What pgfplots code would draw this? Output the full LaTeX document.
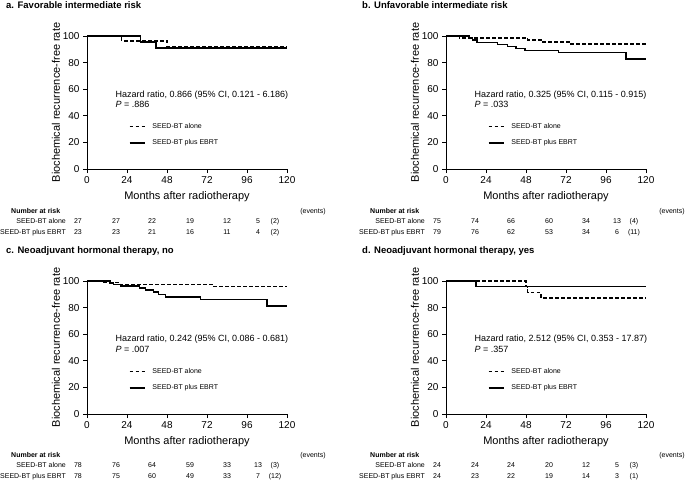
\documentclass[border=0pt]{standalone}
\usepackage{fontspec}
\setmainfont{Liberation Sans}
\usepackage{pgfplots}
\pgfplotsset{compat=1.18}

\newcommand{\titf}{\fontsize{9.5}{11}\selectfont\bfseries}
\newcommand{\tabf}{\fontsize{7}{8}\selectfont}
\newcommand{\tabbf}{\fontsize{7}{8}\selectfont\bfseries}
\newcommand{\hrf}{\fontsize{9}{11}\selectfont}

\pgfplotsset{
  km/.style={
    scale only axis, width=200pt, height=133pt,
    anchor=south west,
    xmin=0, xmax=120, ymin=0, ymax=100,
    axis x line*=bottom, axis y line*=left,
    xtick={0,24,...,120}, ytick={0,20,...,100},
    tick align=outside, major tick length=4pt,
    tick style={line width=0.8pt, black},
    axis line style={line width=0.8pt},
    tick label style={font=\fontsize{10}{12}\selectfont},
    /pgf/number format/assume math mode=true,
    label style={font=\fontsize{11}{13}\selectfont},
    xlabel={Months after radiotherapy},
    ylabel={Biochemical recurrence-free rate},
    ylabel shift=-4pt, xlabel shift=1pt,
    clip=false,
    legend style={draw=none, fill=none, at={(axis cs:25,35.5)}, anchor=north west,
      font=\tabf, row sep=8pt, inner sep=0pt, nodes={inner sep=1pt}},
    legend cell align=left,
    legend image code/.code={\draw[##1] (0pt,0pt) -- (15pt,0pt); \path (21pt,0pt);},
  },
  alone/.style={const plot, black, line width=1.3pt, dash pattern=on 3.5pt off 2.5pt},
  ebrt/.style={const plot, black, line width=1.6pt},
}

% number at risk table: #1 = axis x0, #2 = header baseline, #3 = alone/ebrt/xpos
\newcommand{\risktable}[3]{%
  \begin{scope}[shift={(#1pt,#2pt)}]
    \node[anchor=base west, font=\tabbf, inner sep=0pt] at (-76pt,0pt) {Number at risk};
    \node[anchor=base, font=\tabf, inner sep=0pt] at (226pt,0pt) {(events)};
    \node[anchor=base east, font=\tabf, inner sep=0pt] at (-21pt,-10.5pt) {SEED-BT alone};
    \node[anchor=base east, font=\tabf, inner sep=0pt] at (-21pt,-21pt) {SEED-BT plus EBRT};
    \foreach \a/\b/\p in {#3} {
      \node[anchor=base, font=\tabf, inner sep=0pt] at (\p pt,-10.5pt) {\a};
      \node[anchor=base, font=\tabf, inner sep=0pt] at (\p pt,-21pt) {\b};
    }
  \end{scope}%
}

\begin{document}
\begin{tikzpicture}
\path[use as bounding box] (0pt,0pt) rectangle (685pt,480pt);

% a
\node[anchor=base west, font=\titf, inner sep=0pt] at (6pt,471.5pt) {a. Favorable intermediate risk};
\begin{axis}[km, at={(87pt,311pt)}]
\addplot[alone] coordinates {(0,100) (20.8,96.3) (48,91.8) (120,91.8)};
\addlegendentry{SEED-BT alone}
\addplot[ebrt] coordinates {(0,100) (32,95.7) (41.5,91.0) (120,91.0)};
\addlegendentry{SEED-BT plus EBRT}
\node[anchor=west, font=\hrf, inner sep=0pt] at (axis cs:17,55.5) {Hazard ratio, 0.866 (95\% CI, 0.121 - 6.186)};
\node[anchor=west, font=\hrf, inner sep=0pt] at (axis cs:17,48.3) {\textit{P} = .886};
\end{axis}
\risktable{87}{267}{27/23/-9, 27/23/29, 22/21/65, 19/16/103, 12/11/140, 5/4/171, {(2)}/{(2)}/188}

% b
\node[anchor=base west, font=\titf, inner sep=0pt] at (362pt,471.5pt) {b. Unfavorable intermediate risk};
\begin{axis}[km, at={(446pt,311pt)}]
\addplot[alone] coordinates {(0,100) (8,98.6) (49,97) (57,95.5) (75,94) (120,94)};
\addlegendentry{SEED-BT alone}
\addplot[ebrt] coordinates {(0,100) (14,98.5) (16,97) (18.5,95) (31,93.5) (37,92) (42,90.5)
  (47.5,89) (67.5,87.5) (108,82.5) (120,82.5)};
\addlegendentry{SEED-BT plus EBRT}
\node[anchor=west, font=\hrf, inner sep=0pt] at (axis cs:17,55.5) {Hazard ratio, 0.325 (95\% CI, 0.115 - 0.915)};
\node[anchor=west, font=\hrf, inner sep=0pt] at (axis cs:17,48.3) {\textit{P} = .033};
\end{axis}
\risktable{446}{267}{75/79/-9, 74/76/29, 66/62/65, 60/53/103, 34/34/140, 13/6/171, {(4)}/{(11)}/188}

% c
\node[anchor=base west, font=\titf, inner sep=0pt] at (6pt,226.5pt) {c. Neoadjuvant hormonal therapy, no};
\begin{axis}[km, at={(87pt,66pt)}]
\addplot[alone] coordinates {(0,100) (9,98.7) (20,97.3) (76,95.8) (120,95.8)};
\addlegendentry{SEED-BT alone}
\addplot[ebrt] coordinates {(0,100) (13.8,98.7) (16,97.4) (20,96.2) (31.5,94.6) (35,93.2)
  (40,91.7) (43,90) (47,88) (68,86) (108,81) (120,81)};
\addlegendentry{SEED-BT plus EBRT}
\node[anchor=west, font=\hrf, inner sep=0pt] at (axis cs:17,56) {Hazard ratio, 0.242 (95\% CI, 0.086 - 0.681)};
\node[anchor=west, font=\hrf, inner sep=0pt] at (axis cs:17,48.6) {\textit{P} = .007};
\end{axis}
\risktable{87}{23}{78/78/-9, 76/75/29, 64/60/65, 59/49/103, 33/33/140, 13/7/171, {(3)}/{(12)}/188}

% d
\node[anchor=base west, font=\titf, inner sep=0pt] at (362pt,226.5pt) {d. Neoadjuvant hormonal therapy, yes};
\begin{axis}[km, at={(446pt,66pt)}]
\addplot[alone] coordinates {(0,100) (48,95.8) (49,91.6) (57,87.3) (120,87.3)};
\addlegendentry{SEED-BT alone}
\addplot[ebrt] coordinates {(0,100) (18,95.8) (120,95.8)};
\addlegendentry{SEED-BT plus EBRT}
\node[anchor=west, font=\hrf, inner sep=0pt] at (axis cs:17,56) {Hazard ratio, 2.512 (95\% CI, 0.353 - 17.87)};
\node[anchor=west, font=\hrf, inner sep=0pt] at (axis cs:17,48.6) {\textit{P} = .357};
\end{axis}
\risktable{446}{23}{24/24/-9, 24/23/29, 24/22/65, 20/19/103, 12/14/140, 5/3/171, {(3)}/{(1)}/188}

\end{tikzpicture}
\end{document}
